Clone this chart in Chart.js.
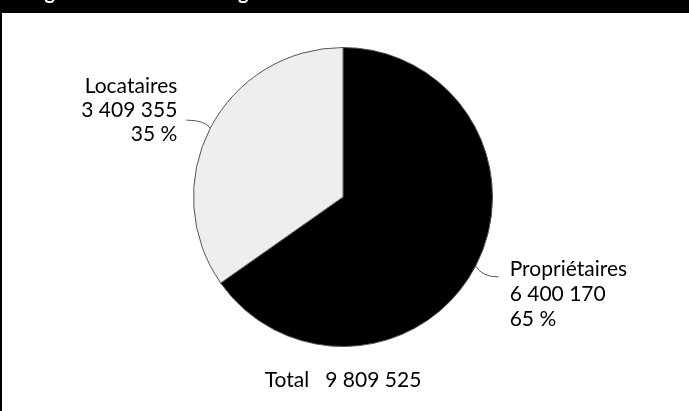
<!DOCTYPE html>
<html>
<head>
<meta charset="utf-8">
<script src="https://cdn.jsdelivr.net/npm/chart.js@4.4.1/dist/chart.umd.min.js"></script>
<style>
  html, body { margin: 0; padding: 0; background: #fff; }
  canvas { display: block; }
</style>
</head>
<body>
<canvas id="pieChart" width="689" height="411"></canvas>
<script>
// Ménages par statut d'occupation
const labels = ["Propriétaires", "Locataires"];
const values = [6400170, 3409355];
const colors = ["#000000", "#eeeeee"];
const title = "Figure 12 : Statut des logements";

const total = values.reduce((a, b) => a + b, 0);
const fmt = n => String(n).replace(/\B(?=(\d{3})+(?!\d))/g, " ");
const pct = v => Math.round(v / total * 100) + " %";

// black band + left border
const frame = {
  id: "frame",
  beforeDraw(chart) {
    const ctx = chart.ctx;
    ctx.save();
    ctx.fillStyle = "#000";
    ctx.fillRect(0, 0, chart.width, 13);
    ctx.fillRect(0, 13, 2, chart.height - 13);
    ctx.fillStyle = "#fff";
    ctx.font = "bold 20px Lato";
    ctx.textBaseline = "alphabetic";
    ctx.fillText(title, 28, -1);
    ctx.restore();
  }
};

// leader lines, slice labels and total
const sliceLabels = {
  id: "sliceLabels",
  afterDraw(chart) {
    const ctx = chart.ctx;
    const arcs = chart.getDatasetMeta(0).data;
    ctx.save();
    ctx.font = "21px Lato";
    ctx.fillStyle = "#000";
    arcs.forEach((arc, i) => {
      const p = arc.getProps(["x", "y", "startAngle", "endAngle", "outerRadius"], true);
      const mid = (p.startAngle + p.endAngle) / 2;
      const cos = Math.cos(mid), sin = Math.sin(mid);
      const x0 = p.x + cos * p.outerRadius, y0 = p.y + sin * p.outerRadius;
      const dir = cos >= 0 ? 1 : -1;
      const x1 = x0 + dir * (dir > 0 ? 23 : 24), y1 = y0 + (dir > 0 ? 11 : -8);
      ctx.strokeStyle = "#555";
      ctx.lineWidth = 1;
      ctx.beginPath();
      ctx.moveTo(x0, y0);
      ctx.quadraticCurveTo(x0 + dir * 6, y1, x1, y1);
      ctx.stroke();
      const lines = [labels[i], fmt(values[i]), pct(values[i])];
      if (dir > 0) {
        ctx.textAlign = "left";
        lines.forEach((t, k) => ctx.fillText(t, x1 + 11, y1 - 1 + k * 25));
      } else {
        ctx.textAlign = "right";
        lines.forEach((t, k) => ctx.fillText(t, x1 - 9, y1 - 27 + k * 24));
      }
    });
    const a = chart.chartArea;
    ctx.textAlign = "center";
    ctx.fillText("Total   " + fmt(total), (a.left + a.right) / 2, a.bottom + 40);
    ctx.restore();
  }
};

new Chart(document.getElementById("pieChart"), {
  type: "pie",
  data: {
    labels: labels,
    datasets: [{
      data: values,
      backgroundColor: colors,
      borderColor: "#555",
      borderWidth: 1
    }]
  },
  options: {
    responsive: false,
    animation: false,
    layout: { padding: { top: 47, bottom: 64, left: 193, right: 196 } },
    plugins: {
      legend: { display: false },
      tooltip: { enabled: false }
    }
  },
  plugins: [frame, sliceLabels]
});
</script>
</body>
</html>
